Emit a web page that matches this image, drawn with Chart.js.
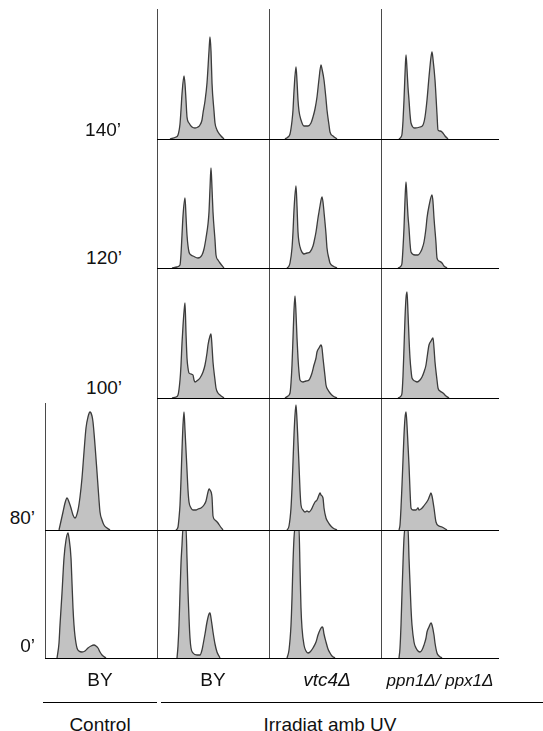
<!DOCTYPE html>
<html lang="ca">
<head>
<meta charset="utf-8" />
<title>Cicle cel·lular després d'UV</title>
<style>
  body { margin: 0; background: #fff; }
  #fig { position: relative; width: 543px; height: 731px; font-family: "Liberation Sans", Arial, sans-serif; color: #111; }
  #fig canvas { position: absolute; }
  .vl { position: absolute; width: 1px; background: #4a4a4a; }
  .hl { position: absolute; height: 1px; background: #000; }
  .lbl { position: absolute; font-size: 19px; line-height: 19px; white-space: nowrap; }
  .r { text-align: right; width: 60px; }
  .c { text-align: center; width: 140px; }
  .it { font-style: italic; }
  .sm { font-size: 17px; }
</style>
</head>
<body>
<div id="fig"></div>

<script src="https://cdn.jsdelivr.net/npm/chart.js"></script>
<script>
  // time points (rows, top to bottom) and strains (columns)
  const times = ["140’", "120’", "100’", "80’", "0’"];
  const strains = ["BY", "BY", "vtc4Δ", "ppn1Δ/ ppx1Δ"];
  const groups = ["Control", "Irradiat amb UV"];

  // DNA content histograms: [channel, cells]
  const ctl80 = [[14,0],[18,18],[20,27],[22,32],[24,28],[26,22],[28,15],[30,12],[33,20],[35,33],[37,52],[39,78],[41,102],[43,113],[45,118],[47,114],[48,108],[50,85],[52,58],[54,30],[55,18],[57,10],[59,5],[62,2],[65,0]];
  const ctl0 = [[12,0],[14,15],[15,33],[17,65],[19,100],[21,118],[23,125],[24,120],[26,100],[27,75],[28,50],[29,33],[30,22],[32,10],[34,7],[37,6],[40,7],[43,10],[46,12],[49,13],[51,12],[53,10],[55,6],[57,3],[61,0]];

  const by140 = [[13,0],[19,2],[21,4],[23,15],[24,29],[25,45],[27,63],[28,55],[29,39],[30,22],[32,16],[35,12],[38,11],[41,12],[43,14],[45,19],[46,26],[48,38],[50,56],[52,88],[53,102],[54,88],[55,56],[57,28],[58,16],[60,9],[61,7],[64,3],[67,0]];
  const by120 = [[15,0],[20,1],[23,3],[24,14],[25,33],[26,52],[28,70],[29,52],[30,33],[32,16],[34,13],[36,12],[41,10],[45,13],[47,19],[49,30],[51,44],[52,56],[53,80],[54,100],[55,80],[56,56],[58,28],[59,13],[61,8],[63,5],[67,0]];
  const by100 = [[15,0],[19,1],[21,3],[23,18],[24,33],[25,55],[26,72],[27,86],[28,95],[29,65],[30,40],[31,30],[32,25],[34,24],[36,23],[37,18],[38,16],[41,18],[43,20],[46,26],[48,33],[50,45],[51,53],[53,62],[54,64],[55,52],[56,36],[58,18],[59,10],[61,5],[63,3],[67,0]];
  const by80 = [[19,0],[21,3],[22,12],[23,25],[24,50],[25,80],[26,105],[27,118],[28,100],[29,80],[30,60],[31,40],[32,28],[34,22],[36,20],[39,20],[41,21],[44,22],[47,25],[49,29],[51,38],[52,41],[53,40],[55,33],[56,14],[58,10],[61,7],[63,4],[66,0]];
  const by0 = [[20,0],[21,12],[22,33],[23,65],[24,95],[25,113],[26,130],[29,130],[30,100],[31,66],[32,40],[33,20],[34,10],[36,5],[40,3],[43,3],[45,8],[46,13],[48,24],[50,36],[52,44],[53,45],[54,40],[56,26],[58,14],[60,6],[62,2],[63,0]];

  const vtc140 = [[16,0],[19,2],[21,5],[23,18],[24,29],[25,48],[27,72],[28,58],[29,39],[30,28],[32,19],[35,13],[39,13],[42,16],[44,22],[46,30],[48,42],[50,60],[52,74],[53,70],[55,59],[57,40],[58,29],[60,14],[61,7],[64,3],[68,0]];
  const vtc120 = [[18,0],[20,2],[21,5],[23,20],[24,36],[25,58],[27,82],[28,62],[29,36],[30,26],[32,18],[35,14],[38,15],[41,16],[44,22],[45,26],[47,36],[49,50],[50,56],[51,62],[53,71],[54,66],[55,56],[57,34],[58,20],[60,9],[61,5],[64,2],[68,0]];
  const vtc100 = [[16,0],[19,2],[21,5],[22,15],[23,33],[24,60],[25,88],[26,102],[27,85],[28,60],[29,40],[30,26],[31,18],[34,16],[37,17],[40,18],[43,25],[45,33],[47,40],[48,46],[50,50],[52,53],[53,50],[54,40],[56,22],[57,13],[59,8],[61,5],[64,2],[68,0]];
  const vtc80 = [[18,0],[20,4],[22,22],[23,42],[24,68],[25,95],[26,115],[27,125],[28,110],[29,88],[30,65],[31,40],[32,25],[34,20],[36,18],[38,19],[40,18],[42,20],[44,24],[46,28],[48,30],[50,35],[51,37],[52,35],[54,32],[55,22],[57,12],[59,8],[61,5],[64,2],[68,0]];
  const vtc0 = [[18,0],[20,8],[22,33],[23,60],[24,95],[25,120],[26,130],[30,130],[31,90],[32,50],[33,30],[35,13],[37,7],[39,5],[41,6],[44,10],[47,16],[49,23],[51,28],[53,31],[54,30],[55,24],[57,16],[59,9],[61,5],[63,2],[66,0]];

  const ppn140 = [[18,0],[20,2],[21,5],[22,18],[23,39],[24,65],[25,84],[26,70],[27,52],[28,39],[29,25],[30,16],[34,11],[39,12],[42,14],[44,22],[46,39],[48,62],[50,82],[51,87],[52,80],[54,59],[56,25],[57,9],[59,8],[61,7],[64,3],[67,0]];
  const ppn120 = [[17,0],[20,2],[21,5],[22,20],[23,40],[24,68],[25,86],[26,70],[27,52],[28,40],[29,25],[30,16],[34,13],[37,13],[39,15],[41,19],[43,26],[45,40],[46,50],[48,62],[51,73],[52,66],[53,50],[55,25],[56,10],[58,7],[61,5],[63,2],[66,0]];
  const ppn100 = [[17,0],[20,2],[21,5],[22,22],[23,50],[24,80],[25,100],[26,106],[27,85],[28,60],[29,40],[30,28],[31,20],[34,17],[36,16],[39,18],[41,21],[43,26],[45,33],[46,40],[48,53],[50,57],[52,60],[53,50],[54,36],[56,18],[57,10],[59,7],[62,5],[65,2],[68,0]];
  const ppn80 = [[18,0],[19,5],[20,22],[21,45],[22,70],[23,95],[24,112],[25,118],[26,105],[27,85],[28,65],[29,40],[30,22],[32,20],[35,20],[37,22],[38,20],[40,21],[42,23],[45,27],[47,30],[49,35],[50,37],[51,34],[53,22],[55,8],[58,4],[61,3],[66,0]];
  const ppn0 = [[18,0],[19,10],[20,33],[21,65],[22,95],[23,120],[24,130],[27,130],[28,100],[29,75],[30,50],[31,33],[33,16],[35,10],[37,7],[39,6],[41,8],[43,13],[45,20],[46,26],[48,31],[50,35],[51,33],[53,23],[54,15],[56,5],[58,2],[61,0]];

  // grid: [row][col], control column only has 80' and 0'
  const grid = [
    [null,  by140, vtc140, ppn140],
    [null,  by120, vtc120, ppn120],
    [null,  by100, vtc100, ppn100],
    [ctl80, by80,  vtc80,  ppn80],
    [ctl0,  by0,   vtc0,   ppn0],
  ];

  const fig = document.getElementById("fig");
  const colX = [45, 157, 269, 381];
  const rowTop = [9, 139, 268, 398, 530];
  const rowH = [130, 129, 130, 132, 128];
  const panelW = 112;

  function el(cls, css, text) {
    const d = document.createElement("div");
    d.className = cls;
    Object.assign(d.style, css);
    if (text) d.textContent = text;
    fig.appendChild(d);
    return d;
  }

  grid.forEach((row, r) => {
    row.forEach((pts, c) => {
      if (!pts) return;
      const cv = document.createElement("canvas");
      cv.width = panelW;
      cv.height = rowH[r];
      cv.style.left = colX[c] + "px";
      cv.style.top = rowTop[r] + "px";
      fig.appendChild(cv);
      new Chart(cv, {
        type: "line",
        data: {
          datasets: [{
            data: pts.map(([x, y]) => ({ x, y })),
            fill: "origin",
            backgroundColor: "#c2c2c2",
            borderColor: "#3c3c3c",
            borderWidth: 1.3,
            pointRadius: 0,
            cubicInterpolationMode: "monotone",
          }],
        },
        options: {
          responsive: false,
          animation: false,
          events: [],
          layout: { padding: 0 },
          plugins: { legend: { display: false }, tooltip: { enabled: false } },
          scales: {
            x: { type: "linear", min: 0, max: panelW, display: false },
            y: { min: 0, max: rowH[r], display: false },
          },
        },
      });
    });
  });

  // panel frames
  [157, 269, 381].forEach((x) => el("vl", { left: x + "px", top: "9px", height: "649px" }));
  el("vl", { left: "45px", top: "403px", height: "255px" });
  [139, 268, 398].forEach((y) => el("hl", { left: "157px", top: y + "px", width: "342px" }));
  [530, 658].forEach((y) => el("hl", { left: "45px", top: y + "px", width: "454px" }));

  // time labels
  const timeLbl = [[61, 120], [62, 248], [62, 378], [-25, 508], [-25, 636]];
  times.forEach((t, i) => el("lbl r", { left: timeLbl[i][0] + "px", top: timeLbl[i][1] + "px" }, t));

  // strain labels (mutants in italics)
  const strainX = [100, 213, 327, 440];
  const strainCls = ["", "", " it", " it sm"];
  strains.forEach((s, i) =>
    el("lbl c" + strainCls[i], { left: strainX[i] - 70 + "px", top: (i > 2 ? 671 : 670) + "px" }, s));

  // group brackets
  el("hl", { left: "43px", top: "702px", width: "114px" });
  el("hl", { left: "161px", top: "702px", width: "382px" });
  el("lbl c", { left: 100 - 70 + "px", top: "715px" }, groups[0]);
  el("lbl c", { left: 330 - 70 + "px", top: "715px" }, groups[1]);
</script>
</body>
</html>
